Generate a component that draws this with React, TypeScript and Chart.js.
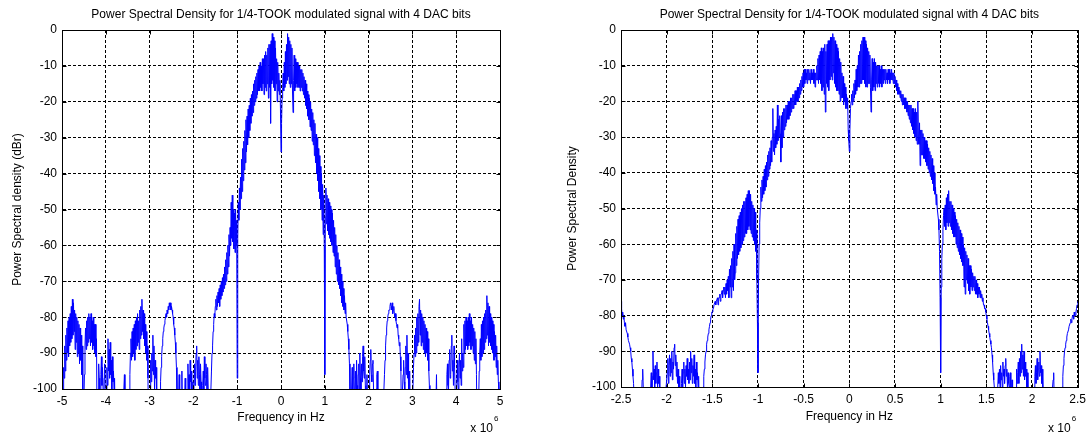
import React, { useEffect, useRef } from 'react';
import { Chart, registerables } from 'chart.js';

Chart.register(...registerables);

const FONT_FAMILY = '"Liberation Sans", Arial, Helvetica, sans-serif';

const TITLE = 'Power Spectral Density for 1/4-TOOK modulated signal with 4 DAC bits';
const X_LABEL = 'Frequency in Hz';
const Y_LABEL_LEFT = 'Power Spectral density (dBr)';
const Y_LABEL_RIGHT = 'Power Spectral Density';
const X_EXPONENT = '6';

const Y_TICKS = [0, -10, -20, -30, -40, -50, -60, -70, -80, -90, -100];
const LEFT_X_TICKS = [-5, -4, -3, -2, -1, 0, 1, 2, 3, 4, 5];
const RIGHT_X_TICKS = [-2.5, -2, -1.5, -1, -0.5, 0, 0.5, 1, 1.5, 2, 2.5];

// Frequency bins in units of 10^6 Hz. Each row covers ROW_SPAN starting at ROW_START + r*ROW_SPAN.
const LEFT_ROW_START = -5;
const LEFT_ROW_SPAN = 0.5;
const LEFT_BIN_STEP = 0.0125;
// PSD (dB); values below -100 fall off the axis
const LEFT_PSD_ROWS = [
  [-110, -104, -100, -94, -97, -88, -95, -85, -92, -83, -90, -81, -91, -80, -88, -79, -87, -77, -86, -75,
   -85, -76, -84, -78, -89, -79, -87, -80, -91, -81, -90, -82, -93, -83, -92, -85, -96, -88, -100, -110],
  [-110, -96, -88, -83, -89, -81, -88, -80, -87, -79, -86, -80, -88, -79, -87, -81, -89, -80, -88, -82,
   -90, -82, -91, -86, -110, -110, -100, -93, -97, -110, -110, -96, -91, -99, -94, -100, -110, -97, -93, -100],
  [-110, -100, -94, -99, -86, -95, -89, -97, -87, -96, -92, -100, -91, -98, -95, -100, -97, -110, -110, -110,
   -110, -110, -110, -110, -110, -110, -110, -110, -110, -110, -110, -110, -110, -100, -96, -104, -110, -110, -110, -110],
  [-110, -110, -110, -110, -96, -90, -86, -92, -84, -91, -83, -90, -82, -92, -81, -89, -80, -88, -79, -87,
   -81, -89, -78, -86, -77, -85, -75, -84, -78, -86, -79, -88, -82, -90, -84, -92, -88, -97, -110, -110],
  [-110, -100, -92, -98, -90, -95, -85, -96, -88, -100, -92, -97, -94, -110, -110, -110, -110, -110, -110, -104,
   -98, -94, -91, -88, -86, -84, -83, -82, -81, -80, -79, -80, -78, -79, -77, -78, -76, -77, -76, -78],
  [-77, -78, -79, -80, -82, -83, -85, -87, -90, -94, -100, -110, -110, -110, -96, -110, -110, -110, -110, -95,
   -110, -110, -110, -110, -110, -97, -110, -110, -110, -110, -93, -100, -96, -110, -92, -98, -95, -110, -110, -98],
  [-110, -100, -93, -99, -95, -90, -88, -97, -92, -99, -91, -96, -100, -93, -98, -110, -110, -99, -95, -100,
   -91, -97, -99, -93, -96, -110, -94, -100, -110, -110, -110, -110, -100, -95, -90, -88, -84, -82, -79, -80],
  [-77, -75, -78, -74, -77, -73, -76, -72, -77, -71, -75, -70, -74, -69, -73, -68, -72, -66, -71, -64,
   -70, -62, -68, -60, -66, -57, -63, -55, -60, -48, -58, -46, -59, -50, -61, -51, -62, -50, -60, -53],
  [-97, -58, -48, -53, -44, -50, -41, -47, -36, -45, -33, -42, -31, -39, -28, -37, -25, -34, -24, -32,
   -22, -30, -21, -28, -19, -26, -18, -24, -17, -23, -15, -21, -14, -20, -13, -19, -12, -18, -11, -17],
  [-10, -17, -9, -16, -10, -17, -8, -15, -8, -18, -7, -16, -6, -17, -7, -15, -5, -19, -4, -16,
   -4, -26, -3, -15, -1, -14, -2, -16, -3, -17, -5, -15, -8, -20, -9, -17, -12, -18, -14, -22],
  [-34, -26, -19, -16, -12, -17, -9, -16, -6, -15, -4, -14, -1, -13, -2, -15, -3, -16, -4, -15,
   -5, -17, -23, -14, -7, -17, -8, -16, -9, -15, -9, -16, -10, -16, -10, -17, -11, -16, -11, -17],
  [-12, -18, -13, -19, -14, -21, -15, -22, -17, -24, -18, -25, -19, -27, -20, -28, -22, -31, -23, -32,
   -25, -35, -26, -37, -29, -40, -30, -42, -33, -45, -35, -47, -38, -50, -40, -53, -43, -57, -46, -60],
  [-96, -52, -44, -54, -46, -56, -47, -57, -48, -58, -49, -59, -50, -60, -51, -62, -53, -63, -55, -66,
   -57, -68, -60, -70, -62, -71, -64, -72, -66, -74, -68, -76, -70, -77, -72, -78, -74, -79, -76, -80],
  [-80, -82, -84, -86, -89, -93, -100, -110, -110, -100, -94, -110, -97, -93, -100, -110, -95, -100, -92, -99,
   -110, -96, -93, -100, -90, -97, -100, -93, -98, -91, -88, -95, -97, -91, -99, -110, -100, -96, -110, -110],
  [-110, -100, -96, -92, -89, -96, -98, -93, -92, -100, -110, -110, -110, -110, -100, -96, -95, -110, -110, -110,
   -110, -110, -110, -110, -110, -110, -110, -110, -100, -96, -92, -88, -85, -83, -81, -80, -79, -78, -78, -77],
  [-76, -77, -78, -76, -79, -78, -77, -79, -80, -79, -81, -82, -83, -82, -85, -86, -88, -87, -91, -95,
   -110, -110, -100, -96, -92, -98, -100, -94, -88, -96, -85, -97, -90, -100, -110, -95, -110, -110, -100, -110],
  [-110, -100, -94, -90, -85, -91, -83, -90, -80, -88, -79, -87, -77, -75, -85, -78, -88, -79, -87, -80,
   -89, -81, -90, -82, -91, -83, -90, -84, -92, -86, -95, -99, -110, -110, -110, -110, -110, -110, -110, -110],
  [-110, -110, -110, -104, -96, -110, -110, -110, -110, -110, -110, -110, -110, -110, -110, -110, -110, -110, -110, -110,
   -110, -110, -100, -96, -93, -99, -100, -92, -89, -97, -96, -88, -85, -95, -92, -99, -88, -94, -100, -110],
  [-110, -100, -92, -98, -100, -94, -90, -97, -92, -99, -86, -95, -90, -94, -82, -90, -81, -89, -80, -88,
   -81, -89, -80, -88, -79, -87, -81, -89, -80, -88, -82, -90, -83, -92, -84, -93, -86, -96, -110, -110],
  [-110, -104, -95, -90, -86, -92, -82, -91, -81, -90, -80, -89, -79, -87, -78, -86, -74, -85, -76, -88,
   -77, -87, -79, -88, -80, -89, -81, -90, -82, -92, -84, -91, -85, -94, -88, -96, -92, -98, -100, -105],
  [-110],
];

const RIGHT_ROW_START = -2.5;
const RIGHT_ROW_SPAN = 0.25;
const RIGHT_BIN_STEP = 0.00625;
// PSD (dB)
const RIGHT_PSD_ROWS = [
  [-76, -78, -80, -79, -81, -80, -82, -83, -82, -84, -84, -85, -86, -87, -87, -88, -89, -90, -92, -93,
   -95, -97, -99, -104, -110, -110, -110, -110, -110, -110, -110, -110, -110, -110, -110, -110, -104, -98, -95, -100],
  [-110, -110, -110, -110, -110, -110, -110, -110, -110, -110, -110, -104, -100, -96, -110, -97, -90, -98, -95, -100,
   -94, -99, -96, -93, -100, -95, -99, -97, -110, -100, -110, -110, -110, -110, -110, -110, -110, -110, -104, -100],
  [-100, -96, -92, -99, -94, -91, -97, -92, -96, -90, -98, -93, -95, -89, -88, -94, -91, -97, -93, -99,
   -95, -100, -97, -110, -110, -104, -99, -95, -100, -96, -93, -99, -95, -100, -94, -97, -92, -98, -95, -99],
  [-93, -98, -90, -96, -92, -99, -94, -97, -91, -99, -95, -100, -93, -98, -96, -100, -97, -110, -110, -110,
   -110, -110, -110, -104, -100, -97, -95, -93, -91, -90, -88, -87, -86, -85, -84, -83, -82, -81, -80, -79],
  [-79, -78, -78, -77, -77, -76, -77, -76, -76, -75, -77, -75, -75, -74, -76, -74, -74, -73, -75, -73,
   -72, -74, -72, -75, -71, -74, -70, -73, -69, -75, -67, -72, -66, -75, -64, -72, -62, -73, -60, -70],
  [-68, -57, -66, -55, -64, -53, -63, -52, -62, -51, -61, -50, -60, -49, -59, -48, -58, -48, -57, -47,
   -57, -46, -56, -45, -55, -45, -56, -46, -57, -48, -58, -49, -59, -50, -60, -51, -62, -56, -70, -82],
  [-96, -70, -60, -54, -50, -44, -48, -42, -47, -41, -46, -39, -45, -38, -44, -37, -42, -35, -41, -34,
   -39, -33, -38, -31, -37, -30, -22, -34, -29, -35, -28, -33, -27, -32, -21, -31, -25, -30, -24, -29],
  [-37, -24, -33, -23, -30, -22, -28, -22, -27, -21, -26, -21, -25, -20, -25, -20, -24, -19, -23, -19,
   -22, -18, -22, -18, -21, -17, -21, -17, -20, -16, -20, -16, -19, -15, -18, -14, -17, -13, -16, -12],
  [-16, -11, -15, -11, -14, -12, -15, -11, -14, -11, -14, -12, -15, -11, -14, -12, -14, -11, -15, -12,
   -16, -12, -14, -10, -14, -8, -15, -7, -14, -6, -15, -5, -17, -6, -16, -5, -18, -4, -23, -6],
  [-15, -4, -16, -3, -17, -3, -14, -2, -13, -2, -14, -1, -12, -2, -15, -3, -16, -4, -17, -5,
   -17, -6, -18, -8, -20, -9, -19, -12, -19, -13, -21, -15, -20, -16, -22, -18, -22, -19, -28, -31],
  [-34, -28, -22, -20, -18, -21, -17, -20, -15, -19, -14, -18, -11, -17, -10, -16, -7, -16, -6, -15,
   -4, -15, -3, -14, -2, -14, -2, -15, -3, -16, -4, -16, -5, -15, -6, -15, -7, -16, -23, -14],
  [-8, -17, -9, -16, -8, -17, -9, -15, -10, -16, -10, -15, -10, -16, -11, -15, -10, -16, -11, -15,
   -11, -14, -11, -15, -11, -14, -12, -15, -11, -14, -11, -15, -12, -14, -11, -14, -12, -15, -12, -15],
  [-13, -16, -14, -17, -15, -18, -16, -18, -17, -19, -17, -20, -18, -21, -18, -21, -19, -22, -19, -22,
   -20, -23, -20, -24, -21, -25, -21, -26, -21, -27, -22, -28, -22, -29, -23, -30, -22, -31, -23, -32],
  [-20, -30, -32, -26, -38, -28, -35, -28, -35, -29, -36, -30, -36, -31, -37, -31, -38, -32, -39, -33,
   -40, -34, -41, -35, -42, -36, -43, -38, -45, -40, -46, -44, -49, -46, -50, -50, -53, -56, -62, -75],
  [-96, -72, -64, -60, -56, -52, -50, -55, -49, -56, -47, -54, -46, -55, -45, -54, -48, -55, -48, -56,
   -49, -57, -50, -58, -51, -58, -52, -60, -53, -61, -54, -62, -55, -63, -56, -64, -57, -65, -58, -66],
  [-60, -72, -61, -74, -62, -70, -63, -71, -64, -73, -66, -74, -66, -72, -67, -73, -68, -72, -69, -73,
   -69, -74, -70, -74, -71, -75, -72, -74, -72, -75, -73, -75, -74, -76, -75, -77, -77, -78, -78, -79],
  [-80, -81, -82, -83, -84, -85, -86, -87, -88, -89, -91, -93, -96, -98, -100, -110, -110, -110, -110, -104,
   -100, -96, -99, -95, -100, -94, -98, -96, -100, -93, -97, -95, -99, -94, -92, -97, -95, -100, -96, -99],
  [-100, -97, -96, -100, -110, -98, -110, -110, -110, -110, -110, -104, -100, -95, -99, -96, -93, -99, -92, -97,
   -90, -96, -88, -95, -91, -97, -90, -98, -93, -97, -95, -100, -96, -110, -110, -110, -110, -110, -110, -110],
  [-110, -110, -110, -104, -100, -97, -94, -99, -96, -92, -98, -95, -93, -97, -90, -96, -94, -99, -95, -100,
   -110, -110, -110, -110, -110, -110, -110, -110, -110, -110, -110, -110, -110, -110, -110, -104, -100, -98, -96, -104],
  [-110, -110, -110, -110, -110, -110, -110, -110, -110, -110, -110, -110, -104, -100, -97, -94, -92, -90, -89, -88,
   -87, -86, -85, -85, -84, -83, -83, -82, -81, -82, -81, -80, -80, -81, -79, -80, -80, -79, -78, -77],
  [-76],
];

type PanelSpec = {
  left: number;
  width: number;
  padRight: number;
  yAxisWidth: number;
  xAxisHeight: number;
  yTitlePadTop: number;
  xTitlePadBottom: number;
  xMin: number;
  xMax: number;
  xTicks: number[];
  yLabel: string;
  rowStart: number;
  rowSpan: number;
  binStep: number;
  rows: number[][];
};

const framePlugin = {
  id: 'matlabFrame',
  afterDraw(chart: any) {
    const { ctx, chartArea: a, scales } = chart;
    const L = Math.round(a.left) + 0.5;
    const T = Math.round(a.top) + 0.5;
    const R = Math.round(a.right) + 0.5;
    const B = Math.round(a.bottom) + 0.5;
    ctx.save();
    ctx.strokeStyle = '#000';
    ctx.lineWidth = 1;
    ctx.setLineDash([]);
    ctx.strokeRect(L, T, R - L, B - T);
    const tl = 4;
    ctx.beginPath();
    for (const t of scales.x.ticks) {
      const px = Math.round(scales.x.getPixelForValue(t.value)) + 0.5;
      ctx.moveTo(px, B); ctx.lineTo(px, B - tl);
      ctx.moveTo(px, T); ctx.lineTo(px, T + tl);
    }
    for (const t of scales.y.ticks) {
      const py = Math.round(scales.y.getPixelForValue(t.value)) + 0.5;
      ctx.moveTo(L, py); ctx.lineTo(L + tl, py);
      ctx.moveTo(R, py); ctx.lineTo(R - tl, py);
    }
    ctx.stroke();
    ctx.fillStyle = '#000';
    ctx.textBaseline = 'alphabetic';
    ctx.font = `12px ${FONT_FAMILY}`;
    ctx.textAlign = 'right';
    ctx.fillText('x 10', a.right - 7, 432);
    ctx.font = `8px ${FONT_FAMILY}`;
    ctx.textAlign = 'left';
    ctx.fillText(X_EXPONENT, a.right - 6, 421);
    ctx.restore();
  },
};

function makeConfig(p: PanelSpec): any {
  const points: { x: number; y: number }[] = [];
  p.rows.forEach((row, r) => {
    row.forEach((y, j) => {
      points.push({ x: +(p.rowStart + r * p.rowSpan + j * p.binStep).toFixed(6), y });
    });
  });
  const font = { family: FONT_FAMILY, size: 12, weight: 'normal' as const };
  return {
    type: 'line',
    data: {
      datasets: [
        {
          data: points,
          borderColor: '#0000ff',
          borderWidth: 1,
          pointRadius: 0,
          tension: 0,
          fill: false,
        },
      ],
    },
    options: {
      animation: false,
      responsive: false,
      events: [],
      layout: { padding: { left: 0, top: 0, right: p.padRight, bottom: 0 } },
      plugins: {
        legend: { display: false },
        tooltip: { enabled: false },
        title: {
          display: true,
          text: TITLE,
          color: '#000',
          font,
          fullSize: false,
          padding: { top: 7.8, bottom: 7.8 },
        },
      },
      scales: {
        x: {
          type: 'linear',
          min: p.xMin,
          max: p.xMax,
          afterBuildTicks: (s: any) => {
            s.ticks = p.xTicks.map((v) => ({ value: v }));
          },
          afterFit: (s: any) => {
            s.height = p.xAxisHeight;
          },
          ticks: {
            color: '#000',
            font,
            padding: 5,
            maxRotation: 0,
            autoSkip: false,
            callback: (v: any) => String(v),
          },
          grid: { color: '#000', lineWidth: 1, drawTicks: false },
          border: { display: true, color: '#000', width: 1, dash: [3, 2] },
          title: {
            display: true,
            text: X_LABEL,
            color: '#000',
            font,
            padding: { top: 0, bottom: p.xTitlePadBottom },
          },
        },
        y: {
          type: 'linear',
          min: -100,
          max: 0,
          afterBuildTicks: (s: any) => {
            s.ticks = Y_TICKS.map((v) => ({ value: v }));
          },
          afterFit: (s: any) => {
            s.width = p.yAxisWidth;
          },
          ticks: {
            color: '#000',
            font,
            padding: 5,
            autoSkip: false,
            callback: (v: any) => String(v),
          },
          grid: { color: '#000', lineWidth: 1, drawTicks: false },
          border: { display: true, color: '#000', width: 1, dash: [3, 2] },
          title: {
            display: true,
            text: p.yLabel,
            color: '#000',
            font,
            padding: { top: p.yTitlePadTop, bottom: 0 },
          },
        },
      },
    },
    plugins: [framePlugin],
  };
}

const LEFT_PANEL: PanelSpec = {
  left: 0,
  width: 545,
  padRight: 45,
  yAxisWidth: 62,
  xAxisHeight: 46,
  yTitlePadTop: 10.8,
  xTitlePadBottom: 10.3,
  xMin: -5,
  xMax: 5,
  xTicks: LEFT_X_TICKS,
  yLabel: Y_LABEL_LEFT,
  rowStart: LEFT_ROW_START,
  rowSpan: LEFT_ROW_SPAN,
  binStep: LEFT_BIN_STEP,
  rows: LEFT_PSD_ROWS,
};

const RIGHT_PANEL: PanelSpec = {
  left: 545,
  width: 546,
  padRight: 10,
  yAxisWidth: 76,
  xAxisHeight: 48,
  yTitlePadTop: 20.8,
  xTitlePadBottom: 11.3,
  xMin: -2.5,
  xMax: 2.5,
  xTicks: RIGHT_X_TICKS,
  yLabel: Y_LABEL_RIGHT,
  rowStart: RIGHT_ROW_START,
  rowSpan: RIGHT_ROW_SPAN,
  binStep: RIGHT_BIN_STEP,
  rows: RIGHT_PSD_ROWS,
};

function PsdPanel({ spec }: { spec: PanelSpec }) {
  const ref = useRef<HTMLCanvasElement | null>(null);
  useEffect(() => {
    if (!ref.current) return;
    const chart = new Chart(ref.current, makeConfig(spec));
    return () => chart.destroy();
  }, [spec]);
  return (
    <canvas
      ref={ref}
      width={spec.width}
      height={435}
      style={{ position: 'absolute', left: spec.left, top: 0, width: spec.width, height: 435 }}
    />
  );
}

export default function App() {
  return (
    <div
      style={{
        position: 'fixed',
        left: 0,
        top: 0,
        width: 1091,
        height: 435,
        background: '#fff',
        overflow: 'hidden',
      }}
    >
      <PsdPanel spec={LEFT_PANEL} />
      <PsdPanel spec={RIGHT_PANEL} />
    </div>
  );
}
